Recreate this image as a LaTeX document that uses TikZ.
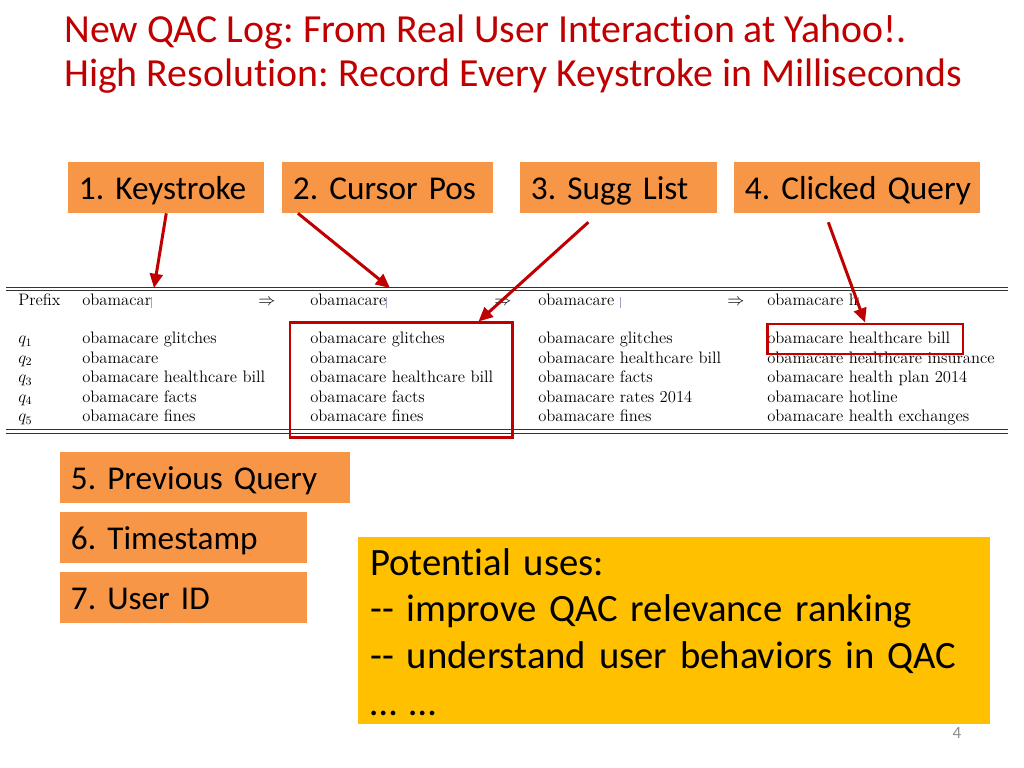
\documentclass[tikz,border=0pt]{standalone}
\usepackage{fontspec}
\newfontfamily\calibri[Ligatures=NoCommon]{Carlito}
\usetikzlibrary{arrows.meta}
\definecolor{qred}{HTML}{C00000}
\definecolor{qorange}{HTML}{F79646}
\definecolor{qyellow}{HTML}{FFC000}
\definecolor{curcol}{HTML}{9AA6C4}
\newcommand\curbar{\textcolor{curcol}{\rule[-2.1pt]{0.6pt}{8.4pt}}}
\frenchspacing

\begin{document}
\begin{tikzpicture}[x=0.703125pt, y=-0.703125pt,
    tag/.style={fill=qorange, anchor=west, inner xsep=7.5pt, inner ysep=0pt,
      minimum height=35.9pt, text height=19.5pt, text depth=2pt, align=left,
      font=\calibri\fontsize{23.4}{28}\selectfont},
    cell/.style={anchor=base west, inner sep=0pt, font=\fontsize{11.7}{14}\selectfont},
    hit/.style={draw=qred, line width=2.1pt, inner sep=0pt},
    pointer/.style={draw=qred, line width=2.1pt, -{Triangle[length=10pt,width=9pt]}},
    tabrule/.style={line width=0.7pt, black!80}]
  \path[use as bounding box, fill=white] (0,0) rectangle (1024,768);

  % title
  \node[anchor=base west, inner sep=0pt, align=left, text=qred,
        font=\calibri\fontsize{28}{31}\selectfont] (title) at (64,87)
        {New QAC Log: From Real User Interact\kern0pt ion at Yahoo!.\\
         High Resolution: Record Every Keystroke in Milliseconds};

  % the logged fields
  \node[tag, text width=122.8pt] (k1) at (68,187.5) {\mbox{1. Keystroke}};
  \node[tag, text width=133.4pt] (k2) at (282,187.5) {\mbox{2. Cursor Pos}};
  \node[tag, text width=123.5pt] (k3) at (520,187.5) {\mbox{3. Sugg List}};
  \node[tag, text width=158pt] (k4) at (734,187.5) {\mbox{4. Clicked Query}};
  \node[tag, text width=188.9pt] (k5) at (60,477.5) {\mbox{5. Previous Query}};
  \node[tag, text width=158.7pt] (k6) at (60,537.5) {\mbox{6. Timestamp}};
  \node[tag, text width=158.7pt] (k7) at (60,597.5) {\mbox{7. User ID}};

  % table of the log
  \draw[tabrule] (6,287.3) -- (1008,287.3);
  \draw[tabrule] (6,290.7) -- (1008,290.7);
  \draw[tabrule] (6,429) -- (1008,429);
  \draw[tabrule] (6,433.5) -- (1008,433.5);

  \node[cell] (pre) at (18,305.5) {Prefix};
  \node[cell] (p1) at (82,305.5) {obamacar\curbar};
  \node[cell] (p2) at (310,305.5) {obamacare\curbar};
  \node[cell] (p3) at (538,305.5) {obamacare \curbar};
  \node[cell] (p4) at (767,305.5) {obamacare h\curbar};
  \foreach \xx [count=\j] in {258,494,727}
    \node[cell] (to\j) at (\xx,305.5) {$\Rightarrow$};

  \foreach \i in {1,...,5}
    \node[cell] (q\i) at (18,324.6+19.4*\i) {$q_{\i}$};
  \foreach \s [count=\i] in {obamacare glitches, obamacare, obamacare healthcare bill,
      obamacare facts, obamacare fines}
    \node[cell] (a\i) at (82,324.6+19.4*\i) {\s};
  \foreach \s [count=\i] in {obamacare glitches, obamacare, obamacare healthcare bill,
      obamacare facts, obamacare fines}
    \node[cell] (b\i) at (310,324.6+19.4*\i) {\s};
  \foreach \s [count=\i] in {obamacare glitches, obamacare healthcare bill, obamacare facts,
      obamacare rates 2014, obamacare fines}
    \node[cell] (c\i) at (538,324.6+19.4*\i) {\s};
  \foreach \s [count=\i] in {obamacare healthcare bill, obamacare healthcare insurance,
      obamacare health plan 2014, obamacare hotline, obamacare health exchanges}
    \node[cell] (d\i) at (767,324.6+19.4*\i) {\s};

  % highlights
  \node[hit, minimum width=156.1pt, minimum height=80.2pt] (list2) at (401,380) {};
  \node[hit, minimum width=137.8pt, minimum height=21.1pt] (pick) at (865,339) {};

  \coordinate (cur1) at (154,288);
  \coordinate (cur2) at (390,288);
  \draw[pointer] (k1.south) -- (cur1);
  \draw[pointer] ([xshift=11.2pt]k2.south west) -- (cur2);
  \draw[pointer] ([xshift=-21.4pt,yshift=-6.3pt]k3.south) -- ([xshift=-24.6pt]list2.north east);
  \draw[pointer] ([xshift=-20.4pt,yshift=-6.3pt]k4.south) -- (pick.north);

  % uses
  \node[fill=qyellow, anchor=north west, minimum width=444.4pt, minimum height=131.5pt,
        inner sep=0pt] (uses) at (358,537) {};
  \node[anchor=base west, inner sep=0pt, align=left, text width=430pt,
        font=\calibri\fontsize{27.2}{33}\selectfont] (usestext) at (370,575)
        {Potent\kern0pt ial uses:\\
         -{}- improve QAC relevance ranking\\
         -{}- understand user behaviors in QAC\\
         … …};

  \node[text=black!45, font=\calibri\fontsize{12}{14}\selectfont] (pnum) at (957,733) {4};
\end{tikzpicture}
\end{document}
